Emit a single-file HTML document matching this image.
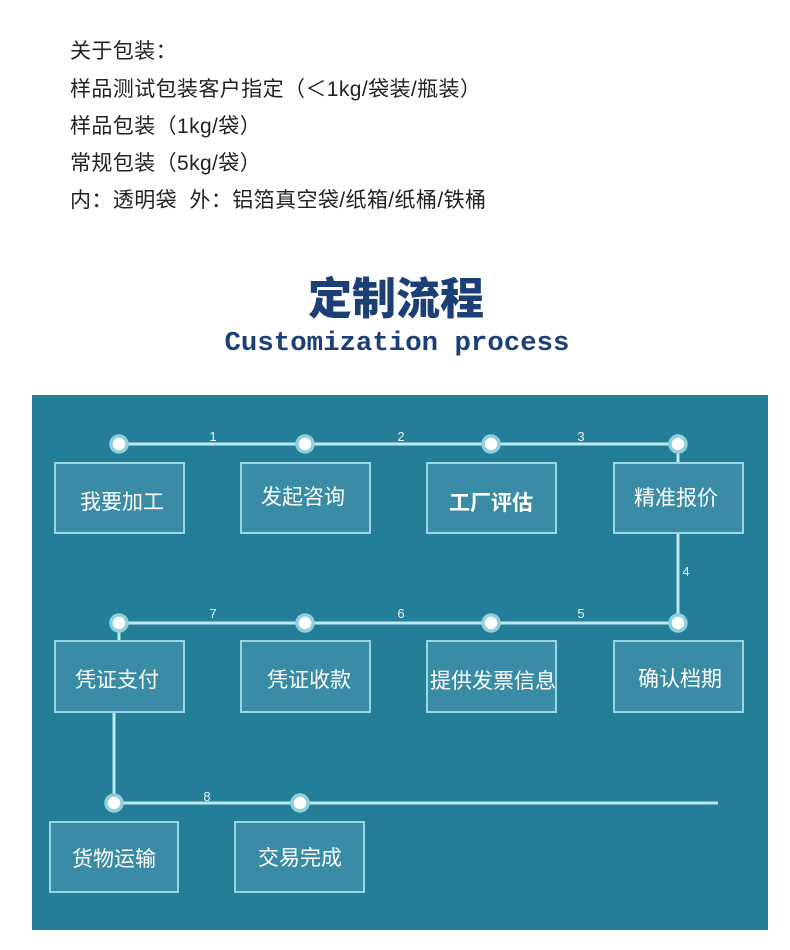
<!DOCTYPE html>
<html><head><meta charset="utf-8"><style>
html,body{margin:0;padding:0;background:#fff;width:790px;height:950px;overflow:hidden}
.t{position:absolute;left:70px;font:21px "Liberation Sans","Noto Sans CJK SC",sans-serif;letter-spacing:0.4px;color:#222;white-space:nowrap}
</style></head><body>
<div class="t" style="top:35px">关于包装：</div>
<div class="t" style="top:73px">样品测试包装客户指定（＜1kg/袋装/瓶装）</div>
<div class="t" style="top:110px">样品包装（1kg/袋）</div>
<div class="t" style="top:147px">常规包装（5kg/袋）</div>
<div class="t" style="top:184px">内：透明袋&nbsp;&nbsp;外：铝箔真空袋/纸箱/纸桶/铁桶</div>
<svg width="790" height="950" style="position:absolute;left:0;top:0" xmlns="http://www.w3.org/2000/svg">
<text x="396" y="314" text-anchor="middle" font-family="Noto Sans CJK SC,sans-serif" font-weight="900" font-size="44" fill="#1d3f78">定制流程</text>
<text x="397" y="350" text-anchor="middle" font-family="Liberation Mono,monospace" font-weight="bold" font-size="27" fill="#1d3f78" textLength="345" lengthAdjust="spacingAndGlyphs">Customization process</text>
<rect x="32" y="395" width="736" height="535" fill="#247e98"/>
<g stroke="#bfe9f1" stroke-width="3" fill="none">
<line x1="119" y1="444" x2="678" y2="444"/>
<line x1="678" y1="444" x2="678" y2="623"/>
<line x1="119" y1="623" x2="678" y2="623"/>
<line x1="119" y1="623" x2="119" y2="641"/>
<line x1="114" y1="712" x2="114" y2="803"/>
<line x1="114" y1="803" x2="718" y2="803"/>
</g>
<g fill="#3a8ca6" stroke="#9ad5e2" stroke-width="2">
<rect x="55" y="463" width="129" height="70"/><rect x="241" y="463" width="129" height="70"/>
<rect x="427" y="463" width="129" height="70"/><rect x="614" y="463" width="129" height="70"/>
<rect x="55" y="641" width="129" height="71"/><rect x="241" y="641" width="129" height="71"/>
<rect x="427" y="641" width="129" height="71"/><rect x="614" y="641" width="129" height="71"/>
<rect x="50" y="822" width="128" height="70"/><rect x="235" y="822" width="129" height="70"/>
</g>
<g fill="#fff" stroke="#8fd0dd" stroke-width="3.5">
<circle cx="119" cy="444" r="8"/><circle cx="305" cy="444" r="8"/><circle cx="491" cy="444" r="8"/><circle cx="678" cy="444" r="8"/>
<circle cx="119" cy="623" r="8"/><circle cx="305" cy="623" r="8"/><circle cx="491" cy="623" r="8"/><circle cx="678" cy="623" r="8"/>
<circle cx="114" cy="803" r="8"/><circle cx="300" cy="803" r="8"/>
</g>
<g fill="#e6f6fa" font-family="Liberation Sans,sans-serif" font-size="13" text-anchor="middle">
<text x="213" y="441">1</text><text x="401" y="441">2</text><text x="581" y="441">3</text>
<text x="686" y="576">4</text><text x="581" y="618">5</text><text x="401" y="618">6</text><text x="213" y="618">7</text>
<text x="207" y="801">8</text>
</g>
<g fill="#fff" font-family="Liberation Sans,Noto Sans CJK SC,sans-serif" font-size="21" text-anchor="middle">
<text x="122" y="509">我要加工</text><text x="303" y="504">发起咨询</text>
<text x="491" y="510" font-weight="bold">工厂评估</text><text x="676" y="505">精准报价</text>
<text x="117" y="687">凭证支付</text><text x="309" y="687">凭证收款</text>
<text x="493" y="688">提供发票信息</text><text x="680" y="686">确认档期</text>
<text x="114" y="866">货物运输</text><text x="300" y="865">交易完成</text>
</g>
</svg>
</body></html>
